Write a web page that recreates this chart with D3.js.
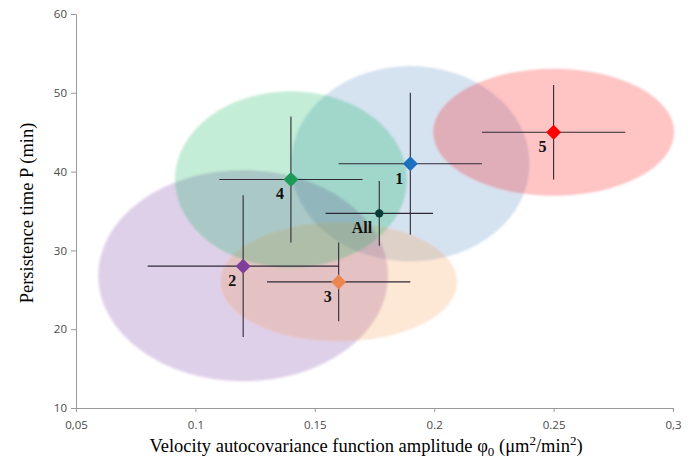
<!DOCTYPE html>
<html>
<head>
<meta charset="utf-8">
<script src="https://cdn.jsdelivr.net/npm/d3@7"></script>
<style>
  body { margin: 0; background: #fff; }
  .viz svg { display: block; }
</style>
</head>
<body>
<div class="viz"></div>
<script>
const groups = ['1', '2', '3', '4', '5', 'All']
const amplitude = [0.19, 0.12, 0.16, 0.14, 0.25, 0.177]
const persistence = [41, 28, 26, 39, 45, 34.7]
const amplitudeErr = [0.03, 0.04, 0.03, 0.03, 0.03, 0.0225]
const persistenceErr = [9, 9, 5, 8, 6, 4.1]

// spread ellipses, one per numbered group
const ellipseCx = [0.19, 0.12, 0.16, 0.14, 0.25]
const ellipseCy = [41, 26.8, 26, 39, 45]
const ellipseRx = [0.05, 0.0607, 0.0496, 0.0486, 0.0505]
const ellipseRy = [12.4, 13.4, 7.55, 11.2, 8.06]

const xTicks = [0.05, 0.1, 0.15, 0.2, 0.25, 0.3]
const xTickLabels = ['0,05', '0.1', '0.15', '0.2', '0.25', '0,3']
const yTicks = [10, 20, 30, 40, 50, 60]

const markerColors = ['#1f6fc0', '#7f3f98', '#eb8650', '#1e9a58', '#ff0000', '#0b3b38']
const ellipseColors = ['#4f81bd', '#7030a0', '#f79646', '#00b050', '#ff0000']

const width = 696
const height = 462

const svg = d3.select('.viz')
  .append('svg')
    .attr('width', width)
    .attr('height', height)

const x = d3.scaleLinear().domain([0.05, 0.3]).range([76, 673])
const y = d3.scaleLinear().domain([10, 60]).range([408, 14])

svg.append('defs').append('filter')
    .attr('id', 'soft')
  .append('feGaussianBlur')
    .attr('stdDeviation', 1.2)

// ellipses
svg.append('g')
    .attr('filter', 'url(#soft)')
  .selectAll('ellipse')
  .data(ellipseCx.map((cx, i) => ({ cx, cy: ellipseCy[i], rx: ellipseRx[i], ry: ellipseRy[i], color: ellipseColors[i] })))
  .enter().append('ellipse')
    .attr('cx', d => x(d.cx))
    .attr('cy', d => y(d.cy))
    .attr('rx', d => x(0.05 + d.rx) - x(0.05))
    .attr('ry', d => y(10) - y(10 + d.ry))
    .attr('fill', d => d.color)
    .attr('fill-opacity', 0.23)

// axes
const xAxis = svg.append('g')
    .attr('transform', `translate(0,${y(10)})`)
    .call(d3.axisBottom(x).tickValues(xTicks).tickFormat(d => xTickLabels[xTicks.indexOf(d)]).tickSize(4).tickSizeOuter(0))
const yAxis = svg.append('g')
    .attr('transform', `translate(${x(0.05)},0)`)
    .call(d3.axisLeft(y).tickValues(yTicks).tickSize(5).tickSizeOuter(0))

for (const ax of [xAxis, yAxis]) {
  ax.select('.domain').attr('stroke', '#9a9a9a')
  ax.selectAll('.tick line').attr('stroke', '#9a9a9a')
  ax.selectAll('.tick text')
    .attr('fill', '#4a4a4a')
    .style('font-family', '"Open Sans", sans-serif')
    .style('font-size', '11.5px')
}
xAxis.selectAll('.tick text').attr('dy', '1.2em')
yAxis.selectAll('.tick text').attr('x', -9)

// error bars and markers
const points = groups.map((name, i) => ({
  name,
  ax: amplitude[i],
  p: persistence[i],
  ex: amplitudeErr[i],
  ey: persistenceErr[i],
  color: markerColors[i]
}))

const pts = svg.append('g').selectAll('g')
  .data(points).enter().append('g')

pts.append('line')
    .attr('x1', d => x(d.ax - d.ex)).attr('x2', d => x(d.ax + d.ex))
    .attr('y1', d => y(d.p)).attr('y2', d => y(d.p))
    .attr('stroke', '#2e2a36').attr('stroke-width', 1.1)
pts.append('line')
    .attr('x1', d => x(d.ax)).attr('x2', d => x(d.ax))
    .attr('y1', d => y(d.p - d.ey)).attr('y2', d => y(d.p + d.ey))
    .attr('stroke', '#2e2a36').attr('stroke-width', 1.1)

pts.append('path')
    .attr('d', d => d.name === 'All' ? d3.symbol(d3.symbolCircle, 55)() : 'M0,-7.5L7.5,0L0,7.5L-7.5,0Z')
    .attr('transform', d => `translate(${x(d.ax)},${y(d.p)})`)
    .attr('fill', d => d.color)

pts.append('text')
    .text(d => d.name)
    .attr('x', d => x(d.ax) - 7)
    .attr('y', d => y(d.p) + 20)
    .attr('text-anchor', 'end')
    .style('font-family', '"Liberation Serif", "Times New Roman", serif')
    .style('font-size', '16px')
    .style('font-weight', 'bold')
    .attr('fill', '#111')

// axis titles
svg.append('text')
    .attr('transform', 'translate(33,213) rotate(-90)')
    .attr('text-anchor', 'middle')
    .style('font-family', '"Liberation Serif", "Times New Roman", serif')
    .style('font-size', '18.5px')
    .text('Persistence time P (min)')

const xt = svg.append('text')
    .attr('x', 366)
    .attr('y', 452)
    .attr('text-anchor', 'middle')
    .style('font-family', '"Liberation Serif", "Times New Roman", serif')
    .style('font-size', '18.5px')
xt.append('tspan').text('Velocity autocovariance function amplitude φ')
xt.append('tspan').text('0').attr('dy', 4).style('font-size', '13px')
xt.append('tspan').text(' (μm').attr('dy', -4)
xt.append('tspan').text('2').attr('dy', -7).style('font-size', '13px')
xt.append('tspan').text('/min').attr('dy', 7)
xt.append('tspan').text('2').attr('dy', -7).style('font-size', '13px')
xt.append('tspan').text(')').attr('dy', 7)
</script>
</body>
</html>
